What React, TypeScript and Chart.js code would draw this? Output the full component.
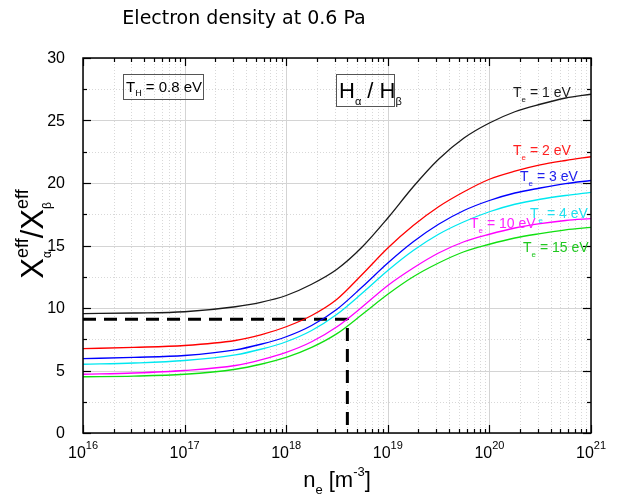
import React, { useEffect, useRef } from "react";
import { Chart, registerables } from "chart.js";

Chart.register(...registerables);

const densities = [1e16, 3.16e16, 1e17, 3.16e17, 5.62e17, 1e18, 1.78e18, 3.16e18, 5.62e18, 1e19, 1.78e19, 3.16e19, 5.62e19, 1e20, 1.78e20, 3.16e20, 5.62e20, 1e21];
const te1 = [9.55, 9.6, 9.7, 10.1, 10.45, 11.0, 11.9, 13.1, 14.9, 17.2, 19.7, 21.9, 23.6, 24.8, 25.7, 26.3, 26.8, 27.1];
const te2 = [6.75, 6.85, 7.0, 7.4, 7.85, 8.5, 9.4, 10.7, 12.7, 14.8, 16.6, 18.1, 19.3, 20.3, 20.95, 21.45, 21.8, 22.1];
const te3 = [5.95, 6.05, 6.2, 6.65, 7.1, 7.7, 8.6, 9.9, 11.7, 13.6, 15.3, 16.7, 17.8, 18.6, 19.2, 19.6, 19.95, 20.2];
const te4 = [5.5, 5.6, 5.8, 6.25, 6.7, 7.3, 8.2, 9.5, 11.2, 13.0, 14.6, 15.9, 16.9, 17.7, 18.3, 18.7, 19.0, 19.25];
const te10 = [4.7, 4.8, 5.0, 5.4, 5.85, 6.45, 7.3, 8.5, 10.1, 11.8, 13.2, 14.4, 15.3, 15.9, 16.4, 16.75, 17.0, 17.15];
const te15 = [4.5, 4.55, 4.7, 5.1, 5.5, 6.05, 6.85, 7.95, 9.5, 11.1, 12.5, 13.6, 14.5, 15.1, 15.6, 15.95, 16.25, 16.45];
const dashX = [1e16, 4e18, 4e18];
const dashY = [9.1, 9.1, 0];

const seriesNames = ["1", "2", "3", "4", "10", "15"];
const seriesColors = ["#1a1a1a", "#ff0000", "#0000ff", "#00e8f0", "#ff00ff", "#10e010"];
const labelColors = ["#1a1a1a", "#ff2020", "#2020ee", "#20e0f0", "#ff20ff", "#20c820"];
const seriesValues = [te1, te2, te3, te4, te10, te15];

const xDecades = [16, 17, 18, 19, 20, 21];
const yTicks = [0, 5, 10, 15, 20, 25, 30];
const title = "Electron density at 0.6 Pa";

const AX = "'Liberation Sans', Arial, sans-serif";

type Run = { t: string; size: number; dy?: number; noAdvance?: boolean };

function measureRuns(ctx: CanvasRenderingContext2D, runs: Run[], family: string) {
  let w = 0;
  for (const r of runs) {
    ctx.font = `${r.size}px ${family}`;
    const m = ctx.measureText(r.t).width;
    if (!r.noAdvance) w += m;
  }
  return w;
}

function drawRuns(ctx: CanvasRenderingContext2D, runs: Run[], x: number, y: number, family: string, color: string) {
  ctx.fillStyle = color;
  ctx.textBaseline = "alphabetic";
  ctx.textAlign = "left";
  let cx = x;
  for (const r of runs) {
    ctx.font = `${r.size}px ${family}`;
    ctx.fillText(r.t, cx, y + (r.dy || 0));
    if (!r.noAdvance) cx += ctx.measureText(r.t).width;
  }
}

const decorPlugin = {
  id: "decor",
  beforeDatasetsDraw(chart: any) {
    const { ctx, chartArea: a, scales } = chart;
    const xs = scales.x, ys = scales.y;
    ctx.save();
    ctx.strokeStyle = "#d8d8d8";
    ctx.lineWidth = 1;
    ctx.setLineDash([1, 2]);
    for (let d = 16; d < 21; d++) {
      for (let m = 2; m <= 9; m++) {
        const px = Math.round(xs.getPixelForValue(m * Math.pow(10, d))) + 0.5;
        ctx.beginPath(); ctx.moveTo(px, a.top); ctx.lineTo(px, a.bottom); ctx.stroke();
      }
    }
    for (let v = 2.5; v < 30; v += 5) {
      const py = Math.round(ys.getPixelForValue(v)) + 0.5;
      ctx.beginPath(); ctx.moveTo(a.left, py); ctx.lineTo(a.right, py); ctx.stroke();
    }
    ctx.setLineDash([]);
    ctx.strokeStyle = "#d4d4d4";
    for (const d of xDecades) {
      const px = Math.round(xs.getPixelForValue(Math.pow(10, d))) + 0.5;
      ctx.beginPath(); ctx.moveTo(px, a.top); ctx.lineTo(px, a.bottom); ctx.stroke();
    }
    for (const v of yTicks) {
      const py = Math.round(ys.getPixelForValue(v)) + 0.5;
      ctx.beginPath(); ctx.moveTo(a.left, py); ctx.lineTo(a.right, py); ctx.stroke();
    }
    ctx.restore();
  },
  afterDraw(chart: any) {
    const { ctx, chartArea: a, scales } = chart;
    const xs = scales.x, ys = scales.y;
    ctx.save();
    ctx.strokeStyle = "#000";
    ctx.lineWidth = 1.5;
    ctx.strokeRect(a.left, a.top, a.right - a.left, a.bottom - a.top);
    ctx.lineWidth = 1.2;
    const tick = (x1: number, y1: number, x2: number, y2: number) => {
      ctx.beginPath(); ctx.moveTo(x1, y1); ctx.lineTo(x2, y2); ctx.stroke();
    };
    for (let d = 16; d <= 21; d++) {
      const px = Math.round(xs.getPixelForValue(Math.pow(10, d))) + 0.5;
      tick(px, a.bottom, px, a.bottom - 8);
      tick(px, a.top, px, a.top + 8);
      if (d < 21) {
        for (let m = 2; m <= 9; m++) {
          const mx = Math.round(xs.getPixelForValue(m * Math.pow(10, d))) + 0.5;
          tick(mx, a.bottom, mx, a.bottom - 4);
          tick(mx, a.top, mx, a.top + 4);
        }
      }
    }
    for (let v = 0; v <= 30; v += 2.5) {
      const py = Math.round(ys.getPixelForValue(v)) + 0.5;
      const len = v % 5 === 0 ? 8 : 4;
      tick(a.left, py, a.left + len, py);
      tick(a.right, py, a.right - len, py);
    }
    ctx.fillStyle = "#000";
    ctx.font = `16px ${AX}`;
    ctx.textAlign = "right";
    ctx.textBaseline = "middle";
    for (const v of yTicks) {
      ctx.fillText(String(v), a.left - 18, ys.getPixelForValue(v) + 1);
    }
    for (const d of xDecades) {
      const px = xs.getPixelForValue(Math.pow(10, d));
      const runs: Run[] = [{ t: "10", size: 16 }, { t: String(d), size: 11, dy: -9 }];
      const w = measureRuns(ctx, runs, AX);
      drawRuns(ctx, runs, px - w / 2, a.bottom + 25, AX, "#000");
    }
    {
      const runs: Run[] = [
        { t: "n", size: 22 }, { t: "e", size: 13, dy: 7 }, { t: " [m", size: 22 }, { t: "-3", size: 13, dy: -11 }, { t: "]", size: 22 },
      ];
      const w = measureRuns(ctx, runs, AX);
      drawRuns(ctx, runs, (a.left + a.right) / 2 - w / 2, 487, AX, "#000");
    }
    {
      const runs: Run[] = [
        { t: "X", size: 31 }, { t: "α", size: 12, dy: 8, noAdvance: true }, { t: "eff", size: 18, dy: -15 },
        { t: "/X", size: 31 }, { t: "β", size: 12, dy: 8, noAdvance: true }, { t: "eff", size: 18, dy: -15 },
      ];
      const w = measureRuns(ctx, runs, AX);
      ctx.save();
      ctx.translate(43, 234);
      ctx.rotate(-Math.PI / 2);
      drawRuns(ctx, runs, -w / 2, 0, AX, "#000");
      ctx.restore();
    }
    ctx.font = "19px 'DejaVu Sans', sans-serif";
    ctx.textAlign = "center";
    ctx.textBaseline = "alphabetic";
    ctx.fillStyle = "#000";
    ctx.fillText(title, 244, 24);
    ctx.lineWidth = 1;
    ctx.strokeStyle = "#555";
    ctx.strokeRect(123.5, 74.5, 80, 25);
    drawRuns(ctx, [{ t: "T", size: 15 }, { t: "H", size: 9, dy: 4 }, { t: " = 0.8 eV", size: 15 }], 126, 92, AX, "#000");
    ctx.strokeRect(336.5, 74.5, 58, 32);
    drawRuns(ctx, [
      { t: "H", size: 22 }, { t: "α", size: 11, dy: 7 }, { t: " / H", size: 22 }, { t: "β", size: 11, dy: 7 },
    ], 339, 98, AX, "#000");
    const labelPos = [[513, 97], [513, 155], [520, 181], [530, 218], [470, 228], [523, 252]];
    seriesNames.forEach((n, i) => {
      drawRuns(ctx, [
        { t: "T", size: 14 }, { t: "e", size: 8, dy: 5 }, { t: ` = ${n} eV`, size: 14 },
      ], labelPos[i][0], labelPos[i][1], AX, labelColors[i]);
    });
    ctx.restore();
  },
};

export default function App() {
  const ref = useRef<HTMLCanvasElement | null>(null);
  useEffect(() => {
    if (!ref.current) return;
    const datasets: any[] = seriesValues.map((vals, i) => ({
      label: `Te = ${seriesNames[i]} eV`,
      data: densities.map((x, j) => ({ x, y: vals[j] })),
      borderColor: seriesColors[i],
      borderWidth: 1.3,
      pointRadius: 0,
      fill: false,
      cubicInterpolationMode: "monotone",
    }));
    datasets.push({
      label: "marker",
      data: dashX.map((x, j) => ({ x, y: dashY[j] })),
      borderColor: "#000",
      borderWidth: 3,
      borderDash: [13, 8],
      pointRadius: 0,
      fill: false,
      tension: 0,
    });
    const chart = new Chart(ref.current, {
      type: "line",
      data: { datasets },
      options: {
        responsive: false,
        animation: false,
        layout: { padding: { left: 0, top: 58, right: 32, bottom: 0 } },
        plugins: { legend: { display: false }, title: { display: false }, tooltip: { enabled: false } },
        scales: {
          x: {
            type: "logarithmic",
            min: 1e16,
            max: 1e21,
            grid: { display: false },
            border: { display: false },
            ticks: { display: false },
            afterFit: (s: any) => { s.height = 69; },
          },
          y: {
            type: "linear",
            min: 0,
            max: 30,
            grid: { display: false },
            border: { display: false },
            ticks: { display: false },
            afterFit: (s: any) => { s.width = 83; },
          },
        },
      },
      plugins: [decorPlugin],
    });
    return () => chart.destroy();
  }, []);
  return (
    <div style={{ position: "absolute", left: 0, top: 0, width: 623, height: 502, background: "#fff" }}>
      <canvas ref={ref} width={623} height={502} style={{ width: 623, height: 502 }} />
    </div>
  );
}
